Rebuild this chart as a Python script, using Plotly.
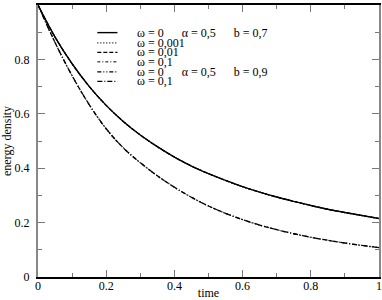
import plotly.graph_objects as go

# time grid
t = [0.0, 0.05, 0.1, 0.15, 0.2, 0.25, 0.3, 0.35, 0.4, 0.45, 0.5,
     0.55, 0.6, 0.65, 0.7, 0.75, 0.8, 0.85, 0.9, 0.95, 1.0]

# b = 0.7 group (omega = 0, 0.001, 0.01, 0.1 overlap)
rho_b07 = [1.000, 0.882, 0.784, 0.701, 0.631, 0.572, 0.522, 0.479, 0.441, 0.408, 0.380,
           0.355, 0.332, 0.312, 0.294, 0.278, 0.263, 0.249, 0.237, 0.226, 0.215]
# b = 0.9 group (omega = 0, 0.1 overlap)
rho_b09 = [1.000, 0.862, 0.740, 0.634, 0.545, 0.475, 0.420, 0.372, 0.330, 0.293, 0.261,
           0.234, 0.211, 0.191, 0.174, 0.159, 0.146, 0.135, 0.125, 0.116, 0.108]

labels = ["ω = 0\u2003\u2002α = 0,5\u2003\u2002b = 0,7",
          "ω = 0,001",
          "ω = 0,01",
          "ω = 0,1",
          "ω = 0\u2003\u2002α = 0,5\u2003\u2002b = 0,9",
          "ω = 0,1"]
series = [rho_b07, rho_b07, rho_b07, rho_b07, rho_b09, rho_b09]
dashes = ["solid", "1px,2px", "4px,2px", "3px,2px,1px,2px",
          "4px,2px,1px,2px,1px,2px", "5px,2px,1px,2px"]
widths = [1.4, 1.2, 1.2, 1.0, 1.3, 1.3]

FONT = "Liberation Serif"

fig = go.Figure()
for ys, d, w, name in zip(series, dashes, widths, labels):
    fig.add_trace(go.Scatter(x=t, y=ys, mode="lines", name=name,
                             line=dict(color="black", width=w, dash=d, shape="spline"),
                             showlegend=False, hoverinfo="skip"))

# hand-made legend (compact rows)
leg_x0, leg_x1, txt_x = 0.174, 0.233, 0.283
leg_y = [0.8985, 0.861, 0.826, 0.791, 0.754, 0.719]
for yy, d, w, name in zip(leg_y, dashes, widths, labels):
    fig.add_shape(type="line", xref="x", yref="y", x0=leg_x0, x1=leg_x1, y0=yy, y1=yy,
                  line=dict(color="black", width=w, dash=d))
    fig.add_annotation(x=txt_x, y=yy, xref="x", yref="y", text=name, showarrow=False,
                       xanchor="left", yanchor="middle",
                       font=dict(family=FONT, size=12, color="black"))

fig.update_layout(
    width=382, height=300,
    margin=dict(l=38, r=3, t=5, b=23, autoexpand=False),
    plot_bgcolor="white", paper_bgcolor="white",
    font=dict(family=FONT, size=12, color="black"),
)
fig.update_xaxes(range=[0, 1], tickvals=[0, 0.2, 0.4, 0.6, 0.8, 1],
                 ticktext=["0", "0.2", "0.4", "0.6", "0.8", "1"],
                 tickfont=dict(family=FONT, size=12), ticklabelstandoff=-3,
                 ticks="inside", ticklen=7, tickcolor="#777", tickwidth=1,
                 minor=dict(dtick=0.1, ticks="inside", ticklen=4, tickcolor="#777", tickwidth=1, showgrid=False),
                 showline=True, linecolor="black", linewidth=1.5, mirror="ticks",
                 showgrid=False, zeroline=False, automargin=False,
                 title=dict(text="time", standoff=0, font=dict(family=FONT, size=12)))
fig.update_yaxes(range=[0, 1], tickvals=[0, 0.2, 0.4, 0.6, 0.8, 1],
                 ticktext=["0", "0.2", "0.4", "0.6", "0.8", "1"],
                 tickfont=dict(family=FONT, size=12), ticklabelstandoff=4,
                 ticks="inside", ticklen=7, tickcolor="#777", tickwidth=1,
                 minor=dict(dtick=0.1, ticks="inside", ticklen=4, tickcolor="#777", tickwidth=1, showgrid=False),
                 showline=True, linecolor="#888", linewidth=2, mirror="ticks",
                 showgrid=False, zeroline=False, automargin=False,
                 title=dict(text="energy density", standoff=0, font=dict(family=FONT, size=12)))

fig.write_html("out.html", config={"displayModeBar": False},
               post_script="document.body.style.margin='0';document.body.style.overflow='hidden';")
